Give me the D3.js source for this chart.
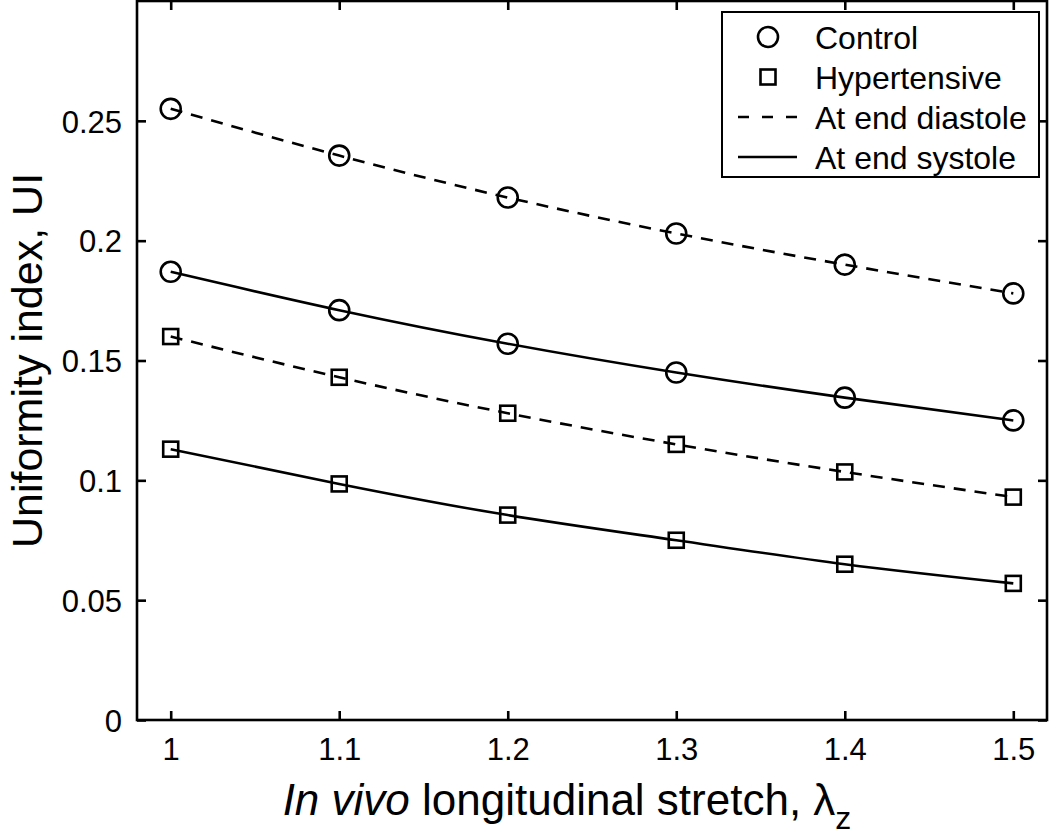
<!DOCTYPE html>
<html>
<head>
<meta charset="utf-8">
<script src="https://cdn.jsdelivr.net/npm/d3@7"></script>
<style>
  html, body { margin: 0; padding: 0; background: #fff; }
  svg { display: block; font-family: "Liberation Sans", Arial, Helvetica, sans-serif; }
</style>
</head>
<body>
<svg id="chart" width="1050" height="837"></svg>
<script>
// ---- data ----
const stretch = [1, 1.1, 1.2, 1.3, 1.4, 1.5];
const controlDiastole = [0.255, 0.2355, 0.218, 0.203, 0.190, 0.178];
const controlSystole = [0.187, 0.171, 0.157, 0.145, 0.1345, 0.125];
const hyperDiastole = [0.160, 0.143, 0.128, 0.115, 0.1035, 0.093];
const hyperSystole = [0.113, 0.0985, 0.0855, 0.075, 0.065, 0.057];
const xTicks = [1, 1.1, 1.2, 1.3, 1.4, 1.5];
const yTicks = [0, 0.05, 0.1, 0.15, 0.2, 0.25];
const legendLabels = ["Control", "Hypertensive", "At end diastole", "At end systole"];

const series = [
  { values: controlDiastole, marker: "circle", dashed: true },
  { values: controlSystole, marker: "circle", dashed: false },
  { values: hyperDiastole, marker: "square", dashed: true },
  { values: hyperSystole, marker: "square", dashed: false }
];

const svg = d3.select("#chart");
const m = { left: 137, right: 1047, top: 1, bottom: 720 };
const x = d3.scaleLinear().domain([0.98, 1.52]).range([m.left, m.right]);
const y = d3.scaleLinear().domain([0, 0.3]).range([m.bottom, m.top]);

const SW = 2.6;
const DASH = "12,9";

// box
svg.append("rect")
  .attr("x", m.left).attr("y", m.top)
  .attr("width", m.right - m.left).attr("height", m.bottom - m.top)
  .attr("fill", "none").attr("stroke", "#000").attr("stroke-width", SW);

// axes (ticks inward)
const fmtY = d => d === 0 ? "0" : String(+d.toFixed(2));
const ax = svg.append("g").attr("transform", `translate(0,${m.bottom})`)
  .call(d3.axisBottom(x).tickValues(xTicks).tickSize(-9).tickPadding(18).tickFormat(d => String(+d.toFixed(1))));
const axTop = svg.append("g").attr("transform", `translate(0,${m.top})`)
  .call(d3.axisTop(x).tickValues(xTicks).tickSize(-9).tickFormat(""));
const ay = svg.append("g").attr("transform", `translate(${m.left},0)`)
  .call(d3.axisLeft(y).tickValues(yTicks).tickSize(-9).tickPadding(15).tickFormat(fmtY));
const ayR = svg.append("g").attr("transform", `translate(${m.right},0)`)
  .call(d3.axisRight(y).tickValues(yTicks).tickSize(-9).tickFormat(""));
[ax, axTop, ay, ayR].forEach(g => {
  g.select(".domain").remove();
  g.selectAll(".tick line").attr("stroke", "#000").attr("stroke-width", SW);
  g.selectAll(".tick text").attr("fill", "#000").attr("font-size", 31)
    .attr("font-family", "'Liberation Sans', Arial, Helvetica, sans-serif");
});
ay.selectAll(".tick text").attr("dy", "0.36em");

// lines
const line = d3.line().x((d, i) => x(stretch[i])).y(d => y(d)).curve(d3.curveNatural);
series.forEach(s => {
  svg.append("path").datum(s.values)
    .attr("d", line)
    .attr("fill", "none").attr("stroke", "#000").attr("stroke-width", SW)
    .attr("stroke-dasharray", s.dashed ? DASH : null);
});

// markers
function drawMarker(g, type, cx, cy) {
  if (type === "circle") {
    g.append("circle").attr("cx", cx).attr("cy", cy).attr("r", 10)
      .attr("fill", "none").attr("stroke", "#000").attr("stroke-width", SW);
  } else {
    g.append("rect").attr("x", cx - 7.5).attr("y", cy - 7.5).attr("width", 15).attr("height", 15)
      .attr("fill", "none").attr("stroke", "#000").attr("stroke-width", SW);
  }
}
const mk = svg.append("g");
series.forEach(s => {
  s.values.forEach((v, i) => drawMarker(mk, s.marker, x(stretch[i]), y(v)));
});

// legend
const lg = svg.append("g");
lg.append("rect").attr("x", 722).attr("y", 12).attr("width", 317).attr("height", 165)
  .attr("fill", "#fff").attr("stroke", "#000").attr("stroke-width", 2);
const rowsY = [37, 77, 117, 157];
drawMarker(lg, "circle", 768, rowsY[0]);
drawMarker(lg, "square", 768, rowsY[1]);
lg.append("line").attr("x1", 738).attr("x2", 797).attr("y1", rowsY[2]).attr("y2", rowsY[2])
  .attr("stroke", "#000").attr("stroke-width", SW).attr("stroke-dasharray", "11,13");
lg.append("line").attr("x1", 738).attr("x2", 797).attr("y1", rowsY[3]).attr("y2", rowsY[3])
  .attr("stroke", "#000").attr("stroke-width", SW);
legendLabels.forEach((t, i) => {
  lg.append("text").attr("x", 815).attr("y", rowsY[i]).attr("dy", "0.36em")
    .attr("font-size", 32).attr("fill", "#000").text(t);
});

// x label
const xl = svg.append("text").attr("x", 567).attr("y", 815)
  .attr("text-anchor", "middle").attr("font-size", 44).attr("fill", "#000");
xl.append("tspan").attr("font-style", "italic").text("In vivo");
xl.append("tspan").text(" longitudinal stretch, λ");
xl.append("tspan").attr("font-size", 32).attr("dy", 14).text("z");

// y label
svg.append("text")
  .attr("transform", `translate(42,${(m.top + m.bottom) / 2}) rotate(-90)`)
  .attr("text-anchor", "middle").attr("font-size", 43).attr("fill", "#000")
  .text("Uniformity index, UI");
</script>
</body>
</html>
